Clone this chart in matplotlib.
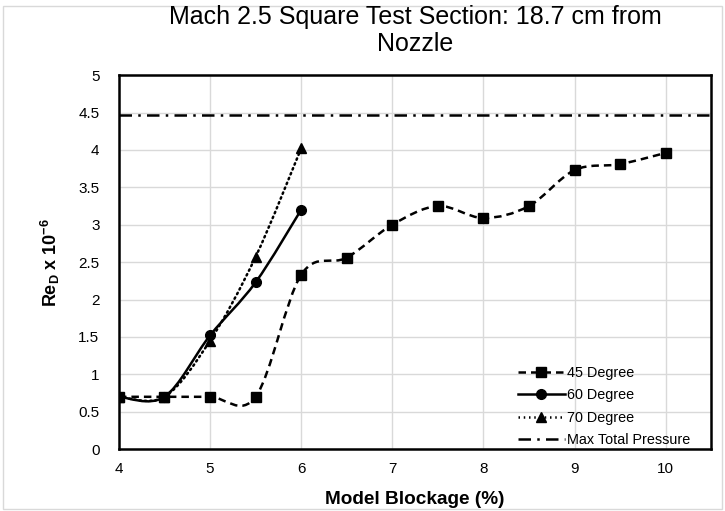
import matplotlib
matplotlib.use("Agg")
import matplotlib.pyplot as plt
from matplotlib.path import Path
from matplotlib.patches import PathPatch, Rectangle
from matplotlib.lines import Line2D

plt.rcParams["font.family"] = ["Liberation Sans", "DejaVu Sans"]
plt.rcParams["mathtext.fontset"] = "custom"
plt.rcParams["mathtext.rm"] = "Liberation Sans"
plt.rcParams["mathtext.bf"] = "Liberation Sans:bold"

# data
blockage_45 = [4, 4.5, 5, 5.5, 6, 6.5, 7, 7.5, 8, 8.5, 9, 9.5, 10]
re_45 = [0.7, 0.7, 0.7, 0.7, 2.33, 2.56, 3.0, 3.25, 3.09, 3.25, 3.73, 3.81, 3.96]
blockage_60 = [4, 4.5, 5, 5.5, 6]
re_60 = [0.7, 0.7, 1.52, 2.23, 3.2]
blockage_70 = [4, 4.5, 5, 5.5, 6]
re_70 = [0.7, 0.7, 1.45, 2.57, 4.02]
max_pressure_x = [4, 10.5]
max_pressure_re = [4.47, 4.47]


def smooth_path(xs, ys):
    # Excel-style smoothed line: cubic bezier through points (Catmull-Rom control points)
    pts = list(zip(xs, ys))
    verts = [pts[0]]
    codes = [Path.MOVETO]
    n = len(pts)
    for i in range(n - 1):
        p0 = pts[i - 1] if i > 0 else pts[i]
        p1 = pts[i]
        p2 = pts[i + 1]
        p3 = pts[i + 2] if i + 2 < n else pts[i + 1]
        c1 = (p1[0] + (p2[0] - p0[0]) / 6, p1[1] + (p2[1] - p0[1]) / 6)
        c2 = (p2[0] - (p3[0] - p1[0]) / 6, p2[1] - (p3[1] - p1[1]) / 6)
        verts += [c1, c2, p2]
        codes += [Path.CURVE4] * 3
    return Path(verts, codes)


fig = plt.figure(figsize=(7.25, 5.11), dpi=100)
fig.patches.append(Rectangle((0.004, 0.004), 0.992, 0.984, transform=fig.transFigure,
                             fill=False, edgecolor="#d9d9d9", lw=1))
ax = fig.add_axes([0.164, 0.121, 0.817, 0.732])

lw = 1.8
dash45 = (0, (3, 2))
dot70 = (0, (0.6, 1.5))
dashdot = (0, (5, 2.5, 1, 2.5))

series = [
    (blockage_45, re_45, dash45, "s", "45 Degree"),
    (blockage_60, re_60, "-", "o", "60 Degree"),
    (blockage_70, re_70, dot70, "^", "70 Degree"),
]
handles = []
for xs, ys, ls, mk, label in series:
    ax.add_patch(PathPatch(smooth_path(xs, ys), fill=False, edgecolor="black",
                           lw=lw, linestyle=ls, capstyle="round" if mk == "^" else "butt"))
    ax.plot(xs, ys, linestyle="none", marker=mk, markersize=7, color="black", zorder=3)
    handles.append(Line2D([], [], color="black", lw=lw, linestyle=ls, marker=mk, markersize=7))

ax.plot(max_pressure_x, max_pressure_re, color="black", lw=lw, linestyle=dashdot)
handles.append(Line2D([], [], color="black", lw=lw, linestyle=dashdot))

ax.set_xlim(4, 10.5)
ax.set_ylim(0, 5)
ax.set_xticks([4, 5, 6, 7, 8, 9, 10])
ax.set_yticks([0, 0.5, 1, 1.5, 2, 2.5, 3, 3.5, 4, 4.5, 5])
ax.set_yticklabels(["0", "0.5", "1", "1.5", "2", "2.5", "3", "3.5", "4", "4.5", "5"])
ax.tick_params(axis="y", length=0, labelsize=11, pad=14)
ax.tick_params(axis="x", length=0, labelsize=11, pad=9)
ax.grid(True, color="#d9d9d9", lw=1)
ax.set_axisbelow(True)
for s in ax.spines.values():
    s.set_linewidth(1.8)
    s.set_color("black")

ax.set_xlabel("Model Blockage (%)", fontsize=13.7, fontweight="bold", labelpad=11)
ax.set_ylabel(r"$\mathbf{Re_D}$ x $\mathbf{10^{-6}}$", fontsize=13, fontweight="bold", labelpad=12)
fig.text(0.573, 0.941, "Mach 2.5 Square Test Section: 18.7 cm from\nNozzle", ha="center",
         va="center", fontsize=18, linespacing=1.15)

ax.legend(handles, ["45 Degree", "60 Degree", "70 Degree", "Max Total Pressure"],
          loc="lower right", bbox_to_anchor=(0.975, -0.01), frameon=False, fontsize=10.4,
          handlelength=3.3, handletextpad=0.15, labelspacing=0.58, borderaxespad=0)

fig.savefig("out.png", dpi=100)
